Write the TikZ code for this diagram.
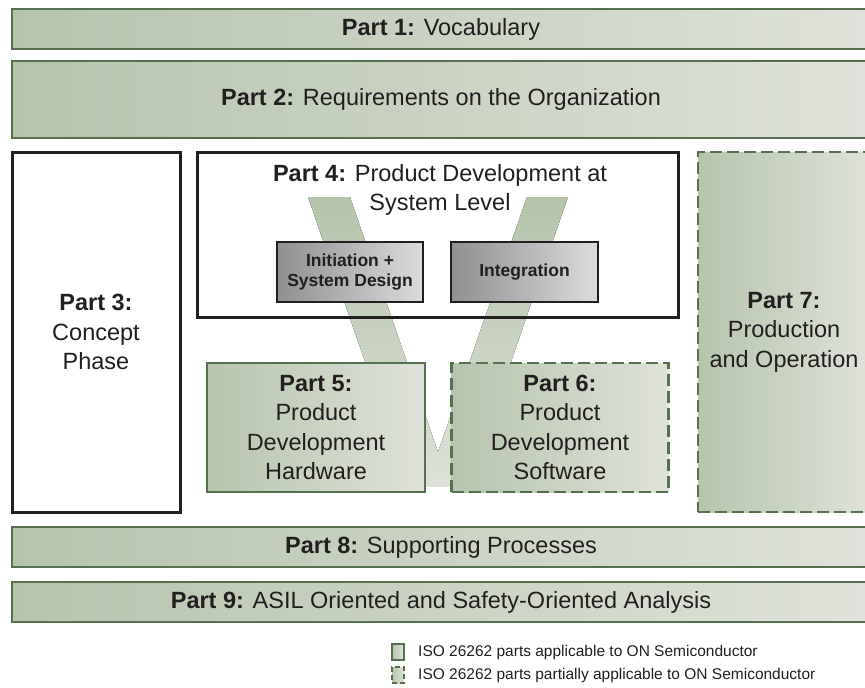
\documentclass[tikz,border=0pt]{standalone}
\usepackage{fontspec}
\setmainfont{Liberation Sans}
\definecolor{gborder}{HTML}{557150}
\definecolor{gleft}{HTML}{B6C4AD}
\definecolor{gright}{HTML}{DFE2DA}
\definecolor{darkc}{HTML}{231F20}
\definecolor{textc}{HTML}{231F20}
\definecolor{grayl}{HTML}{8E8F90}
\definecolor{grayr}{HTML}{DCDCDC}
\definecolor{vtop}{HTML}{B5C3AB}
\definecolor{vbot}{HTML}{DDE1D7}
\begin{document}
\begin{tikzpicture}[x=1pt,y=-1pt,
  boxbase/.style={rectangle, inner sep=0pt, outer sep=0pt, text=textc, align=center,
    font=\fontsize{23.5}{29.5}\selectfont},
  gsolid/.style={boxbase, draw=gborder, line width=2.6pt, left color=gleft, right color=gright},
  gdash/.style={gsolid, dash pattern=on 12pt off 5pt},
  wbox/.style={boxbase, draw=darkc, line width=3pt, fill=white},
  graybox/.style={boxbase, draw=darkc, line width=2.6pt, left color=grayl, right color=grayr,
    font=\bfseries\fontsize{17.5}{20}\selectfont},
  legtext/.style={anchor=west, inner sep=0pt, text=textc, font=\fontsize{15.5}{18}\selectfont}]
\useasboundingbox (0,0) rectangle (865,688);

% horizontal bars
\node[gsolid, minimum width=858, minimum height=40] (p1) at (441,29) {\textbf{Part 1:} Vocabulary};
\node[gsolid, minimum width=858, minimum height=77] (p2) at (441,99.5) {\textbf{Part 2:} Requirements on the Organization};

% Part 3
\node[wbox, minimum width=168, minimum height=360] (p3) at (96,332) {\textbf{Part 3:}\\Concept\\Phase};

% Part 4 box (white fill), then V, then border again
\node[wbox, minimum width=481, minimum height=165] (p4) at (437.5,234.5) {};
\fill[top color=vtop, bottom color=vbot] (308,197) -- (350,197) -- (438,452) -- (527,197) -- (568,197) -- (468,486) -- (408,486) -- cycle;
\draw[darkc, line width=3pt] (p4.north west) rectangle (p4.south east);
\node[boxbase, anchor=north] (p4t) at (440,164) {\textbf{Part 4:} Product Development at\\System Level};

% inner grey boxes
\node[graybox, minimum width=146, minimum height=60] (init) at (350,272) {Initiation +\\System Design};
\node[graybox, minimum width=147, minimum height=60] (integ) at (524.5,272) {Integration};

% Part 5, 6
\node[gsolid, minimum width=218, minimum height=129] (p5) at (316,427.5) {\textbf{Part 5:}\\Product\\Development\\Hardware};
\node[gdash, minimum width=217, minimum height=129] (p6) at (560,427.5) {\textbf{Part 6:}\\Product\\Development\\Software};

% Part 7
\node[gdash, minimum width=172, minimum height=360] (p7) at (784,332) {\textbf{Part 7:}\\Production\\and Operation};

% Part 8, 9
\node[gsolid, minimum width=858, minimum height=40] (p8) at (441,547) {\textbf{Part 8:} Supporting Processes};
\node[gsolid, minimum width=858, minimum height=40] (p9) at (441,602) {\textbf{Part 9:} ASIL Oriented and Safety-Oriented Analysis};

% legend
\node[gsolid, line width=1.5pt, minimum width=12, minimum height=16] (l1) at (398,652) {};
\node[gsolid, line width=1.5pt, dash pattern=on 5pt off 3pt, minimum width=12, minimum height=16] (l2) at (398,675) {};
\node[legtext] (lt1) at (418,652) {ISO 26262 parts applicable to ON Semiconductor};
\node[legtext] (lt2) at (418,675) {ISO 26262 parts partially applicable to ON Semiconductor};
\end{tikzpicture}
\end{document}
